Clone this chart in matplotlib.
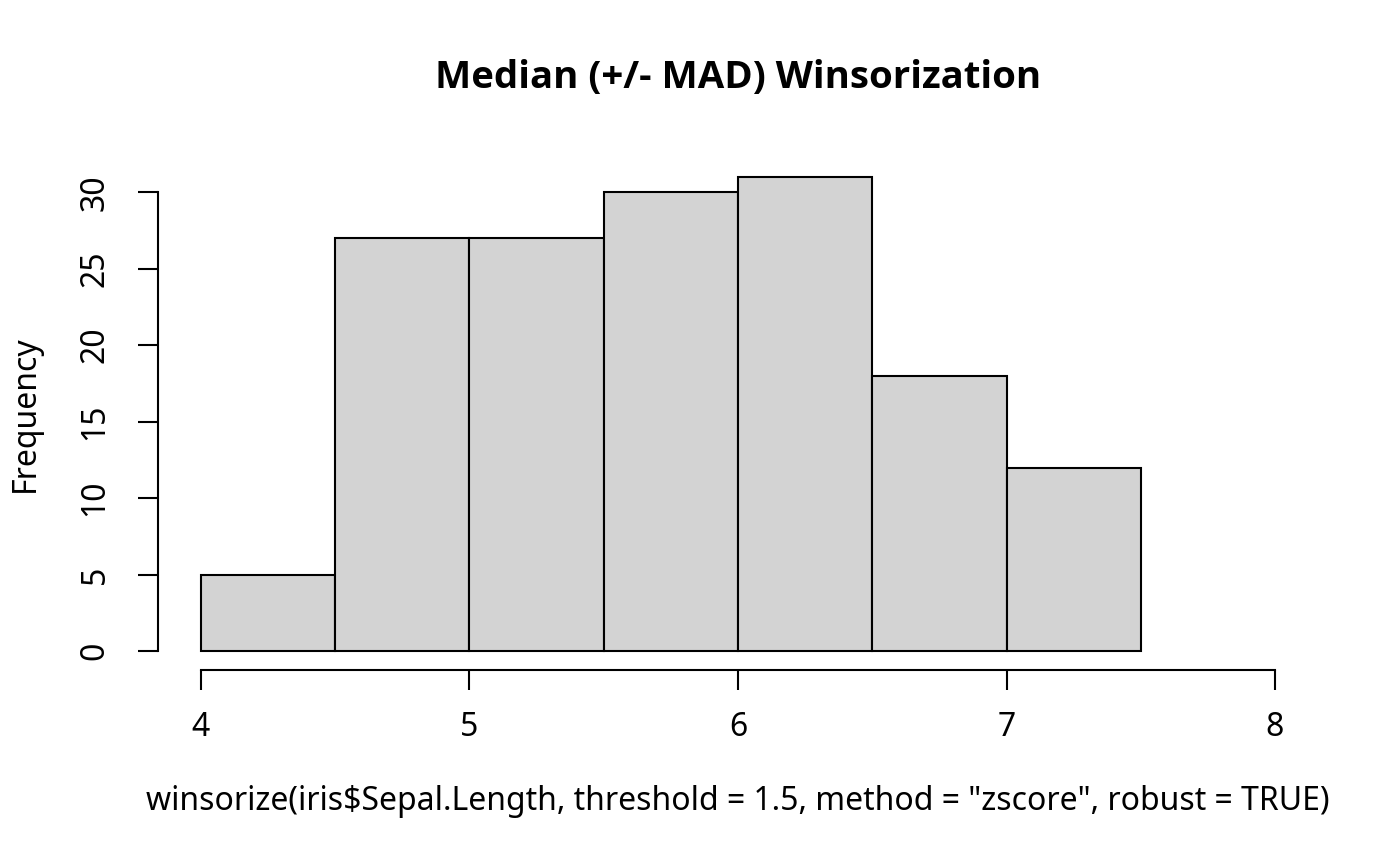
import matplotlib
matplotlib.use("Agg")
import matplotlib.pyplot as plt
from matplotlib import font_manager

# ── data (histogram of winsorized iris Sepal.Length) ──────────────────────────
bin_edges = [4.0, 4.5, 5.0, 5.5, 6.0, 6.5, 7.0, 7.5]
counts    = [5, 27, 27, 30, 31, 18, 12]
x_ticks   = [4, 5, 6, 7, 8]
y_ticks   = [0, 5, 10, 15, 20, 25, 30]

TITLE  = "Median (+/- MAD) Winsorization"
XLABEL = 'winsorize(iris$Sepal.Length, threshold = 1.5, method = "zscore", robust = TRUE)'
YLABEL = "Frequency"

plt.rcParams["font.family"] = ["Noto Sans", "DejaVu Sans"]

# pick a family that really has a bold face for the title
bold_family = "Noto Sans"
for fam in ["Noto Sans", "Open Sans", "DejaVu Sans"]:
    fp = font_manager.FontProperties(family=fam, weight="bold")
    path = font_manager.findfont(fp, fallback_to_default=False)
    if "bold" in path.lower():
        bold_family = fam
        break

W, H = 1400, 866
DPI  = 200
LW   = 0.75

fig = plt.figure(figsize=(W / DPI, H / DPI), dpi=DPI)
# plot region in pixels: left 158, right 1318, top 158, bottom 670
ax = fig.add_axes([158 / W, (H - 670) / H, (1318 - 158) / W, (670 - 158) / H])

widths = [b - a for a, b in zip(bin_edges[:-1], bin_edges[1:])]
ax.bar(bin_edges[:-1], counts, width=widths, align="edge",
       color="#d3d3d3", edgecolor="black", linewidth=LW)

# R-style axes: xlim 4..8, ylim 0..max with 4% padding
ax.set_xlim(4 - 0.04 * 4, 8 + 0.04 * 4)
ax.set_ylim(-0.04 * 31, 31 + 0.04 * 31)

for s in ["top", "right"]:
    ax.spines[s].set_visible(False)
ax.spines["left"].set_bounds(0, 30)
ax.spines["bottom"].set_bounds(4, 8)
ax.spines["left"].set_linewidth(LW)
ax.spines["bottom"].set_linewidth(LW)

ax.set_xticks(x_ticks)
ax.set_yticks(y_ticks)
ax.set_yticklabels([str(v) for v in y_ticks], rotation=90, va="center")
ax.tick_params(axis="both", direction="out", length=7.2, width=LW,
               labelsize=11.5, color="black")
ax.tick_params(axis="x", pad=7.5)
ax.tick_params(axis="y", pad=9.5)

fig.text(738 / W, 1 - 78 / H, TITLE, ha="center", va="center",
         fontsize=13.8, fontweight="bold", family=[bold_family, "DejaVu Sans"])
fig.text(738 / W, 1 - 802 / H, XLABEL, ha="center", va="center", fontsize=11.5)
fig.text(25 / W, 1 - 414 / H, YLABEL, ha="center", va="center",
         rotation=90, fontsize=11.5)

fig.savefig("out.png", dpi=DPI)
